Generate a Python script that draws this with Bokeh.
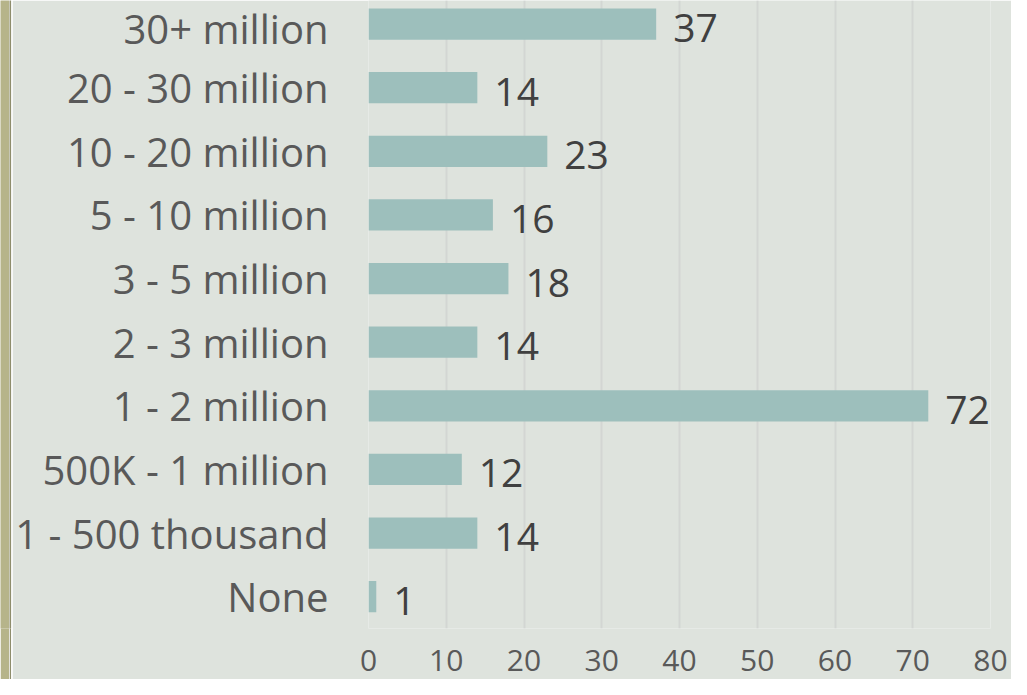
from bokeh.plotting import figure
from bokeh.models import ColumnDataSource, FixedTicker, Range1d
from bokeh.layouts import row
from bokeh.embed import file_html
from bokeh.resources import INLINE
from bokeh.core.properties import value

# Data (bottom to top)
categories = ["None", "1 - 500 thousand", "500K - 1 million", "1 - 2 million",
              "2 - 3 million", "3 - 5 million", "5 - 10 million",
              "10 - 20 million", "20 - 30 million", "30+ million"]
counts = [1, 14, 12, 72, 14, 18, 16, 23, 14, 37]
x_ticks = [0, 10, 20, 30, 40, 50, 60, 70, 80]

BG = "#dee3dd"
BAR = "#9dbfbc"
FONT = "Open Sans"

positions = list(range(len(categories)))
src = ColumnDataSource(dict(y=positions, v=counts, lbl=[str(c) for c in counts]))

p = figure(width=999, height=679, x_range=Range1d(0, 80),
           y_range=Range1d(-0.5, 9.37), output_backend="svg",
           toolbar_location=None, min_border_left=356, min_border_right=21,
           min_border_top=0, min_border_bottom=51)

p.hbar(y="y", left=0, right="v", height=0.49, fill_color=BAR,
       line_color=None, source=src)
p.text(x="v", y="y", text="lbl", x_offset=17, y_offset=4,
       text_baseline="middle", text_align="left", text_line_height=1.0,
       text_font=value(FONT), text_font_size="39px", text_color="#404040",
       source=src)

p.background_fill_color = BG
p.border_fill_color = BG
p.outline_line_color = None

p.ygrid.visible = False
p.xgrid.ticker = FixedTicker(ticks=x_ticks)
p.xgrid.grid_line_color = "#d3d6d3"
p.xgrid.grid_line_width = 2

p.xaxis.ticker = FixedTicker(ticks=x_ticks)
p.xaxis.axis_line_color = None
p.xaxis.major_tick_line_color = None
p.xaxis.minor_tick_line_color = None
p.xaxis.major_label_text_font = FONT
p.xaxis.major_label_text_font_size = "30px"
p.xaxis.major_label_text_color = "#595959"
p.xaxis.major_label_standoff = 15

p.yaxis.ticker = FixedTicker(ticks=positions)
p.yaxis.major_label_overrides = {i: c for i, c in enumerate(categories)}
p.yaxis.axis_line_color = None
p.yaxis.major_tick_line_color = None
p.yaxis.minor_tick_line_color = None
p.yaxis.major_label_text_font = FONT
p.yaxis.major_label_text_font_size = "40px"
p.yaxis.major_label_text_color = "#595959"
p.yaxis.major_label_standoff = 34


def strip(width, color):
    f = figure(width=width, height=679, output_backend="svg",
               toolbar_location=None, min_border=0,
               x_axis_location=None, y_axis_location=None)
    f.grid.visible = False
    f.background_fill_color = color
    f.border_fill_color = color
    f.outline_line_color = None
    return f


# decorative textured strip at left edge
layout = row(strip(9, "#b6b48a"), strip(2, "#8e8d6c"), strip(1, "#e6e8e2"),
             p, spacing=0)

open("out.html", "w").write(file_html(layout, INLINE))
